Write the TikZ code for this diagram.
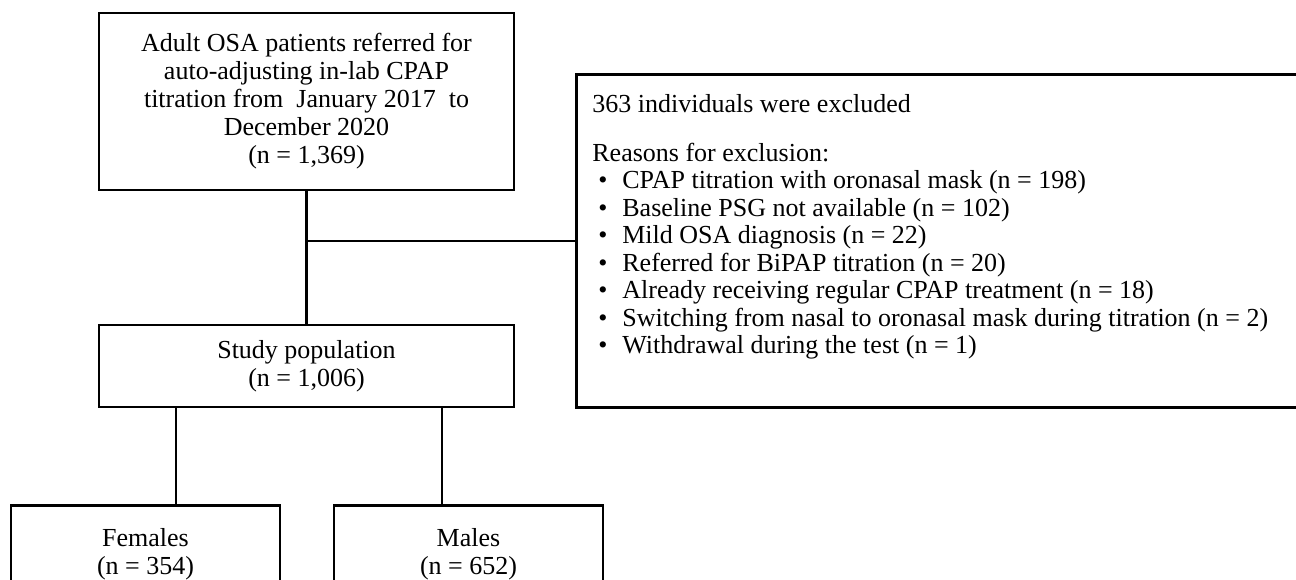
\documentclass[tikz,border=0pt]{standalone}
\usepackage{fontspec}
\setmainfont{Liberation Serif}
\usetikzlibrary{positioning,calc}

\begin{document}
\begin{tikzpicture}[x=0.5pt, y=-0.5pt,
        flowbox/.style={draw, line width=1.3pt, align=center, inner sep=0pt,
            font=\fontsize{13}{14}\selectfont},
        link/.style={line width=1.3pt}]

        % Page frame
        \clip (0,0) rectangle (1296,579);

        % Boxes
        \node[flowbox, minimum width=207.5pt, minimum height=88.5pt] (cohort) at (306.5,101.5)
            {Adult OSA patients referred for\\auto-adjusting in-lab CPAP\\titration from\ \ January 2017\ \ to\\December\ 2020\\(n = 1,369)};
        \node[flowbox, anchor=north west, minimum width=380pt, minimum height=166.5pt] (excluded) at (575,73) {};
        \node[flowbox, minimum width=207.5pt, minimum height=41pt] (study) at (306.5,366)
            {Study population\\(n = 1,006)};
        \node[flowbox, anchor=north, minimum width=134.5pt, minimum height=49pt] (females) at (145.5,504)
            {Females\\(n = 354)};
        \node[flowbox, anchor=north, minimum width=134.5pt, minimum height=49pt] (males) at (468.5,504)
            {Males\\(n = 652)};

        % Exclusion text
        \def\itm{\makebox[15pt][l]{\hspace{3pt}\textbullet}}
        \node[anchor=north west, align=left, inner sep=0pt, font=\fontsize{13}{13.75}\selectfont] (reasons)
            at ($(excluded.north west)+(17,21)$)
            {363 individuals were excluded\\[10.75pt]
             Reasons for exclusion:\\
             \itm CPAP titration with oronasal mask (n = 198)\\
             \itm Baseline PSG\ not available\ (n = 102)\\
             \itm Mild OSA diagnosis (n = 22)\\
             \itm Referred for BiPAP titration (n = 20)\\
             \itm Already receiving regular CPAP treatment (n = 18)\\
             \itm Switching from\ nasal to oronasal mask during titration (n = 2)\\
             \itm Withdrawal during the test (n = 1)};

        % Connectors
        \draw[link] (cohort.south) -- (study.north);
        \coordinate (split) at (cohort.south |- excluded.west);
        \draw[link] (split) -- (excluded.west);
        \coordinate (fdrop) at ($(study.south)+(-130.5,0)$);
        \coordinate (mdrop) at ($(study.south)+(135.5,0)$);
        \draw[link] (fdrop) -- (fdrop |- females.north);
        \draw[link] (mdrop) -- (mdrop |- males.north);
    \end{tikzpicture}
\end{document}
